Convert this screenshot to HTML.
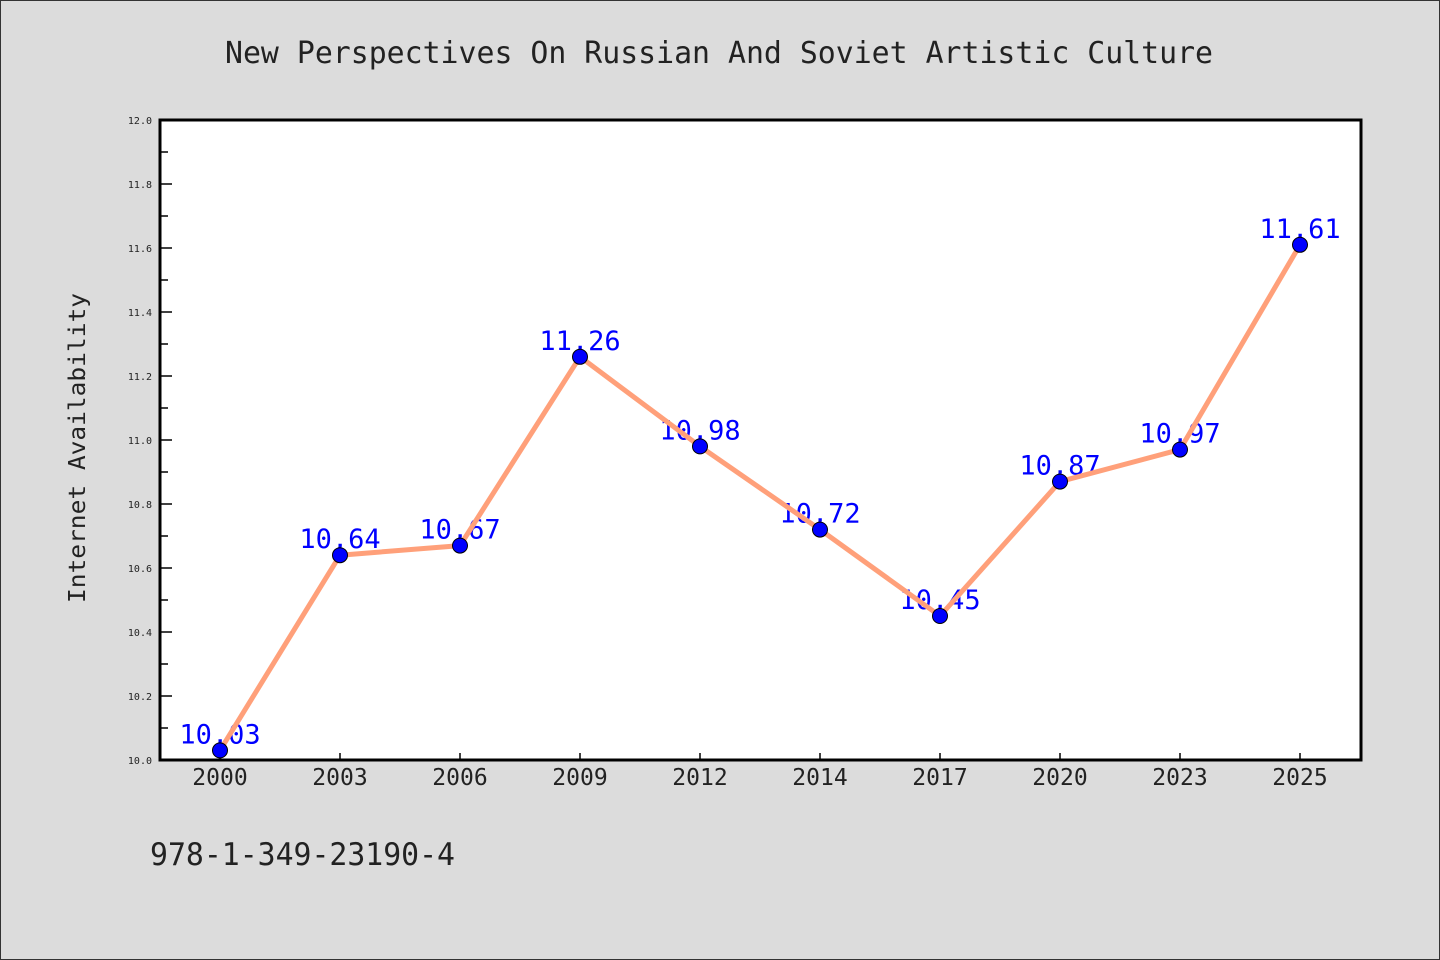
<!DOCTYPE html>
<html><head><meta charset="utf-8"><style>
html,body{margin:0;padding:0;background:#dcdcdc;}
svg{display:block;}
text{font-family:"WenQuanYi Zen Hei","DejaVu Sans Mono","Liberation Mono",monospace;}
</style></head><body>
<svg id="chart" width="1440" height="960" viewBox="0 0 1440 960">
<rect x="0.5" y="0.5" width="1439" height="959" fill="#dcdcdc" stroke="#333" stroke-width="1"/>
<text x="719" y="63" text-anchor="middle" font-size="30" fill="#222" textLength="988" lengthAdjust="spacingAndGlyphs">New Perspectives On Russian And Soviet Artistic Culture</text>
<rect x="160" y="120" width="1201" height="640" fill="#fff"/>
<g id="yaxis"></g>
<g id="xaxis"></g>
<g id="labels"></g>
<g id="series"></g>
<rect x="160" y="120" width="1201" height="640" fill="none" stroke="#000" stroke-width="3"/>
<text transform="translate(85,448) rotate(-90)" text-anchor="middle" font-size="23" fill="#222" textLength="310" lengthAdjust="spacingAndGlyphs">Internet Availability</text>
<text x="150" y="865" font-size="31" fill="#222" textLength="305" lengthAdjust="spacingAndGlyphs">978-1-349-23190-4</text>
</svg>
<script>
const categories=["2000","2003","2006","2009","2012","2014","2017","2020","2023","2025"];
const values=[10.03,10.64,10.67,11.26,10.98,10.72,10.45,10.87,10.97,11.61];
const valueLabels=["10.03","10.64","10.67","11.26","10.98","10.72","10.45","10.87","10.97","11.61"];
const yTicks=[10.0,10.2,10.4,10.6,10.8,11.0,11.2,11.4,11.6,11.8,12.0];
const yMinor=[10.1,10.3,10.5,10.7,10.9,11.1,11.3,11.5,11.7,11.9];
const NS="http://www.w3.org/2000/svg";
const x=i=>220+i*(1080/(categories.length-1));
const y=v=>760-(v-10)*320;
function mk(tag,attrs,parent){const e=document.createElementNS(NS,tag);for(const k in attrs)e.setAttribute(k,attrs[k]);parent.appendChild(e);return e;}
const ya=document.getElementById('yaxis'),xa=document.getElementById('xaxis'),lg=document.getElementById('labels'),sg=document.getElementById('series');
yTicks.forEach(t=>{
 const l=mk('line',{x1:160,x2:172,y1:y(t),y2:y(t),stroke:'#000','stroke-width':1.5},ya);
 
 
 const tx=mk('text',{x:152,y:y(t)+4,'text-anchor':'end','font-size':10,fill:'#222'},ya);
 tx.textContent=t.toFixed(1);
 
 
});
yMinor.forEach(t=>{
 const l=mk('line',{x1:160,x2:168,y1:y(t),y2:y(t),stroke:'#000','stroke-width':1.5},ya);
 
 
});
categories.forEach((c,i)=>{
 const l=mk('line',{x1:x(i),x2:x(i),y1:760,y2:753,stroke:'#000','stroke-width':1.5},xa);
 
 
 const tx=mk('text',{x:x(i),y:785,'text-anchor':'middle','font-size':23,fill:'#222'},xa);
 tx.textContent=c;
 
 
});
values.forEach((v,i)=>{
 const tx=mk('text',{x:x(i),y:y(v)-7,'text-anchor':'middle','font-size':27,fill:'#0000ff'},lg);
 tx.textContent=valueLabels[i].replace('.',',');
 
 
});
const pl=mk('polyline',{points:values.map((v,i)=>x(i)+','+y(v)).join(' '),fill:'none',stroke:'#ffa07a','stroke-width':5,'stroke-linejoin':'round'},sg);


values.forEach((v,i)=>{
 const c=mk('circle',{cx:x(i),cy:y(v),r:7.5,fill:'#0000ff',stroke:'#000','stroke-width':1},sg);
 
 
});
</script>
</body></html>
